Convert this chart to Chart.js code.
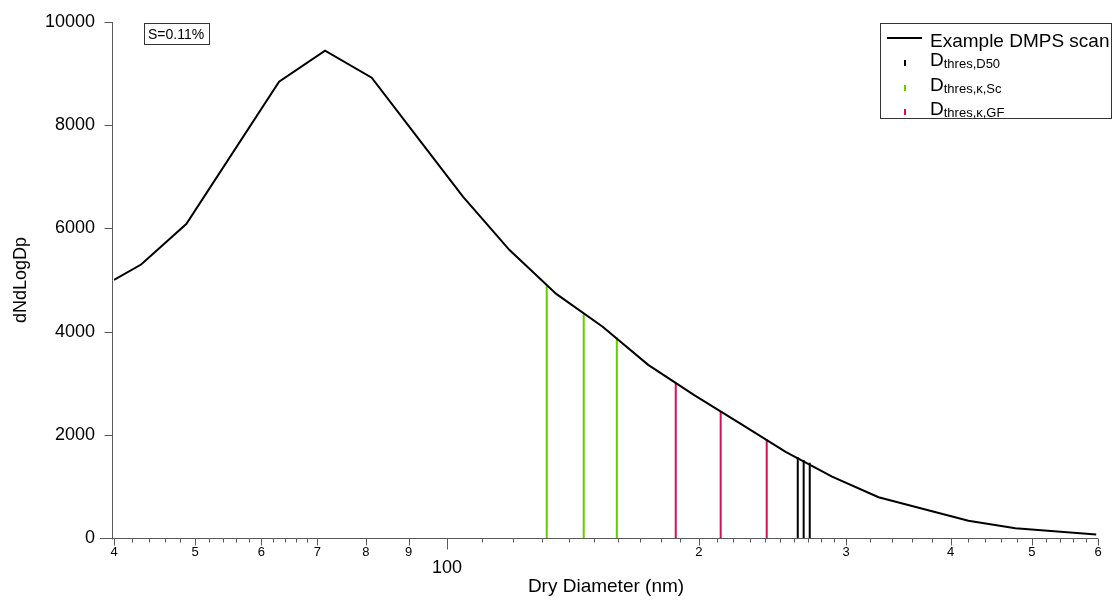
<!DOCTYPE html>
<html>
<head>
<meta charset="utf-8">
<title>Example DMPS scan</title>
<script src="https://cdn.jsdelivr.net/npm/chart.js@4.4.0/dist/chart.umd.min.js"></script>
<style>
  html, body { margin: 0; padding: 0; background: #fff; }
  #wrap { position: relative; width: 1113px; height: 600px; font-family: 'Liberation Sans', Arial, sans-serif; color: #000; }
  #chart { position: absolute; left: 0; top: 0; }
  .box { position: absolute; box-sizing: border-box; border: 1px solid #333; }
  .row { position: absolute; left: 930px; font-size: 19px; line-height: 19px; white-space: nowrap; }
  .row sub { font-size: 13px; vertical-align: -2px; line-height: 0; }
  .sym { position: absolute; }
</style>
</head>
<body>
<div id="wrap">
  <canvas id="chart" width="1113" height="600"></canvas>
  <div class="box" style="left:144px;top:23px;width:66px;height:22px;padding:3px 0 0 3px;font-size:14px;line-height:14px;">S=0.11%</div>
  <div class="box" style="left:880px;top:23px;width:232px;height:96px;"></div>
</div>
<script>
// Example DMPS size distribution with the three threshold diameter sets.

const diameters = [40.0, 43.1, 48.8, 63.0, 71.5, 81.3, 92.4, 104.5, 118.8, 135.1,
  153.5, 174.0, 197.5, 224.0, 254.0, 288.6, 328.0, 420.0, 478.0, 597.0];
const dNdLogDp = [5000, 5300, 6085, 8845, 9445, 8920, 7745, 6615, 5580, 4730,
  4095, 3355, 2770, 2220, 1670, 1190, 790, 335, 190, 70];

// threshold diameters (nm) and the height each stem reaches
const d50Diameters = [262.6, 266.9, 271.4];
const d50Tops = [1565, 1510, 1460];
const scDiameters = [131.6, 145.7, 159.6];
const scTops = [4900, 4360, 3890];
const gfDiameters = [187.7, 212.4, 241.1];
const gfTops = [3000, 2445, 1913];

// x axis: labelled ticks and the unlabelled minor ones
const xLabelValues = [40, 50, 60, 70, 80, 90, 100, 200, 300, 400, 500, 600];
const xLabelTexts = ['4', '5', '6', '7', '8', '9', '100', '2', '3', '4', '5', '6'];
const xMinorTicks = [42, 44, 46, 48, 52, 54, 56, 58, 62, 64, 66, 68,
  110, 120, 130, 140, 150, 160, 170, 180, 190,
  210, 220, 230, 240, 250, 260, 270, 280, 290,
  320, 340, 360, 380, 420, 440, 460, 480, 520, 540, 560, 580];

const legendMain = ['Example DMPS scan', 'D', 'D', 'D'];
const legendSub = ['', 'thres,D50', 'thres,\u03ba,Sc', 'thres,\u03ba,GF'];

function stems(diams, tops) {
  const pts = [];
  diams.forEach((d, i) => {
    pts.push({ x: d, y: 0 }, { x: d, y: tops[i] }, { x: d, y: null });
  });
  return pts;
}

// Igor-style axes: offset left axis, long decade tick, short minor ticks
const axisTicks = {
  id: 'axisTicks',
  afterDraw(chart) {
    const { ctx, chartArea: area } = chart;
    const xs = chart.scales.x;
    const ys = chart.scales.y;
    const base = Math.round(area.bottom) + 0.5;
    const axisX = Math.round(area.left) - 1.5;
    ctx.save();
    ctx.strokeStyle = '#5a5a5a';
    ctx.lineWidth = 1;
    ctx.beginPath();
    ctx.moveTo(area.left - 14, base);
    ctx.lineTo(area.right, base);
    ctx.moveTo(axisX, area.top);
    ctx.lineTo(axisX, base + 1);
    xs.ticks.forEach((t) => {
      const px = Math.round(xs.getPixelForValue(t.value)) + 0.5;
      let len = 4;
      if (t.value === 100) len = 11;
      else if (xLabelValues.includes(t.value)) len = 7;
      ctx.moveTo(px, base);
      ctx.lineTo(px, base + len);
    });
    ys.ticks.forEach((t) => {
      const py = Math.round(ys.getPixelForValue(t.value)) + 0.5;
      ctx.moveTo(axisX - 8, py);
      ctx.lineTo(axisX, py);
    });
    ctx.stroke();
    ctx.restore();
  },
};

Chart.defaults.font.family = "'Liberation Sans', Arial, sans-serif";
Chart.defaults.color = '#000';

const chart = new Chart(document.getElementById('chart'), {
  type: 'line',
  data: {
    datasets: [
      {
        label: 'Example DMPS scan',
        data: diameters.map((d, i) => ({ x: d, y: dNdLogDp[i] })),
        borderColor: '#000',
        borderWidth: 2,
      },
      { label: 'D50', data: stems(d50Diameters, d50Tops), borderColor: '#000', borderWidth: 2 },
      { label: 'Sc', data: stems(scDiameters, scTops), borderColor: '#66cc00', borderWidth: 2 },
      { label: 'GF', data: stems(gfDiameters, gfTops), borderColor: '#d1105a', borderWidth: 2 },
    ],
  },
  options: {
    responsive: false,
    animation: false,
    devicePixelRatio: 1,
    elements: { point: { radius: 0 }, line: { tension: 0 } },
    layout: { padding: { top: 22, right: 15, bottom: 0, left: 0 } },
    plugins: { legend: { display: false }, tooltip: { enabled: false } },
    scales: {
      x: {
        type: 'logarithmic',
        min: 40,
        max: 600,
        afterBuildTicks: (scale) => {
          scale.ticks = xLabelValues.concat(xMinorTicks)
            .sort((a, b) => a - b)
            .map((v) => ({ value: v }));
        },
        afterFit: (scale) => { scale.height = 62; },
        grid: { display: false, drawTicks: false },
        border: { display: false },
        ticks: {
          autoSkip: false,
          maxRotation: 0,
          padding: 7,
          callback: (value) => {
            const i = xLabelValues.indexOf(value);
            if (i < 0) return '';
            return value === 100 ? ['', xLabelTexts[i]] : xLabelTexts[i];
          },
          font: (ctx) => (ctx.tick && ctx.tick.value === 100
            ? { size: 18, lineHeight: 0.85 }
            : { size: 13 }),
        },
        title: {
          display: true,
          text: 'Dry Diameter (nm)',
          font: { size: 19 },
          padding: { top: 0, bottom: 2 },
        },
      },
      y: {
        min: 0,
        max: 10000,
        afterFit: (scale) => {
          scale.width = 114;
          scale.paddingTop = 0;
          scale.paddingBottom = 0;
        },
        grid: { display: false, drawTicks: false },
        border: { display: false },
        ticks: {
          stepSize: 2000,
          padding: 19,
          font: { size: 18 },
          callback: (value) => String(value),
        },
        title: {
          display: true,
          text: 'dNdLogDp',
          font: { size: 18 },
          padding: { top: 10, bottom: 0 },
        },
      },
    },
  },
  plugins: [axisTicks],
});

// Legend with subscripts, built from the datasets
const wrap = document.getElementById('wrap');
const rowTops = [31, 50, 75, 99];
chart.data.datasets.forEach((ds, i) => {
  const sym = document.createElement('div');
  sym.className = 'sym';
  sym.style.background = ds.borderColor;
  if (i === 0) {
    Object.assign(sym.style, { left: '887px', top: '37px', width: '35px', height: '2px' });
  } else {
    Object.assign(sym.style, { left: '904px', top: (rowTops[i] + 10) + 'px', width: '2px', height: '6px' });
  }
  wrap.appendChild(sym);

  const row = document.createElement('div');
  row.className = 'row';
  row.style.top = rowTops[i] + 'px';
  row.textContent = legendMain[i];
  if (legendSub[i]) {
    const sub = document.createElement('sub');
    sub.textContent = legendSub[i];
    row.appendChild(sub);
  }
  wrap.appendChild(row);
});
</script>
</body>
</html>
